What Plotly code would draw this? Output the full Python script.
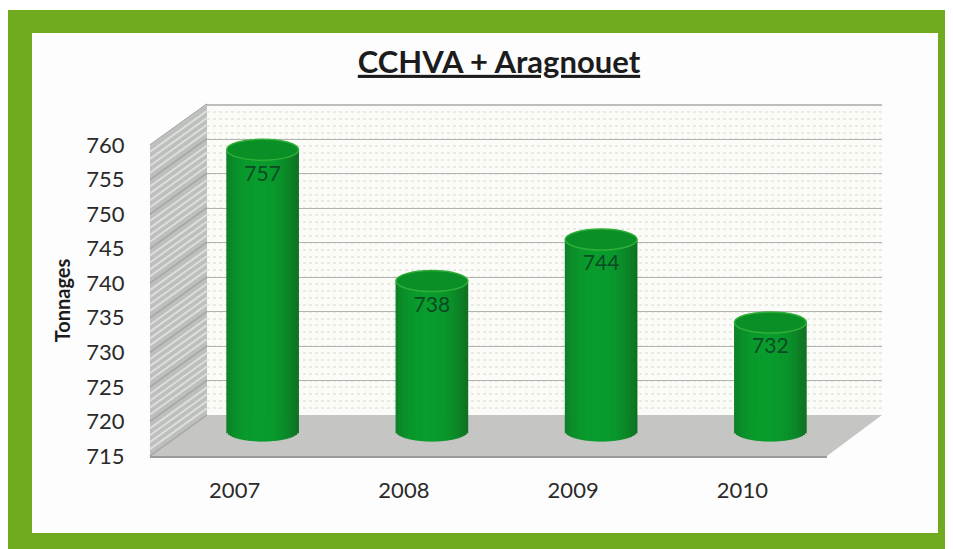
import numpy as np
import plotly.graph_objects as go

years = ["2007", "2008", "2009", "2010"]
tonnages = [757, 738, 744, 732]
y_ticks = [715, 720, 725, 730, 735, 740, 745, 750, 755, 760]
title_text = "CCHVA + Aragnouet"
y_title = "Tonnages"

# The page puts the figure 8px in from the top-left corner of the window
PAGE = 8
W, H = 953 - PAGE, 549 - PAGE
FONT = "Lato"
INK = "#2a2a2a"
px_per_unit = 311 / 45

def fx(x):
    return max(x - PAGE, 0) / W

def fy(y):
    return 1 - (y - PAGE) / H

def dx(a, b):
    return [fx(a), fx(b)]

def dy(top, bottom):
    return [fy(bottom), fy(top)]

def poly(points, close=True):
    return "M" + " L".join(f"{fx(x):.5f},{fy(y):.5f}" for x, y in points) + (" Z" if close else "")

def paper_shape(points, fill, line=None, lw=0):
    return dict(type="path", xref="paper", yref="paper", path=poly(points), fillcolor=fill,
                line=dict(color=line or "rgba(0,0,0,0)", width=lw), layer="below")

shapes = [
    paper_shape([(7, 10), (953, 10), (953, 549), (7, 549)], "#70aa1f"),
    paper_shape([(32, 33), (938, 33), (938, 533), (32, 533)], "#fdfdfd"),
    paper_shape([(207, 105), (882, 105), (882, 415), (207, 415)], "#fbfbf8"),
    paper_shape([(150, 146), (207, 105), (207, 415), (150, 456)], "#bcbfbc"),
    paper_shape([(150, 456), (827, 456), (882, 415), (207, 415)], "#c5c6c4"),
    paper_shape([(207, 105), (882, 105)], "rgba(0,0,0,0)", "#a8aaa6", 1.5),
]
# stripes of the left wall, one per grid step
for v in np.arange(715, 760.01, 1.0):
    yf = 456 - (v - 715) * px_per_unit
    major = v % 5 == 0
    shapes.append(paper_shape([(150, yf), (207, yf - 41)], "rgba(0,0,0,0)",
                              "#a4a7a4" if major else "#dcdedc", 1.5 if major else 2))

# cylinders
bar_w = 0.425
n = 40
t = (np.arange(n) + 0.5) / n * 2 - 1
ell_units = 10.5 / px_per_unit
base_level = 716.3
xs, bases, sizes, colors = [], [], [], []
for i, v in enumerate(tonnages):
    for tt in t:
        xs.append(i + tt * bar_w / 2)
        b = base_level - ell_units * np.sqrt(1 - tt * tt)
        bases.append(b)
        sizes.append(v - b)
        k = abs(tt + 0.1) ** 2.4
        r, g, bb = (8 + 6 * k, 156 - 36 * k, 44 - 8 * k)
        colors.append(f"rgb({r:.0f},{g:.0f},{bb:.0f})")

for i, v in enumerate(tonnages):
    shapes.append(dict(type="circle", xref="x3", yref="y3", layer="above",
                       x0=i - bar_w / 2, x1=i + bar_w / 2,
                       y0=v - ell_units, y1=v + ell_units,
                       fillcolor="#0a8f26", line=dict(color="#2fae38", width=1.5)))

fig = go.Figure()
# back wall grid
fig.add_trace(go.Scatter(x=[0, 1], y=y_ticks[:2], xaxis="x", yaxis="y", mode="none",
                         hoverinfo="skip", showlegend=False))
# front axes with labels
fig.add_trace(go.Scatter(x=years, y=tonnages, xaxis="x2", yaxis="y2", mode="none",
                         hoverinfo="skip", showlegend=False))
fig.add_trace(go.Bar(x=xs, y=sizes, base=bases, width=bar_w / n * 1.4, xaxis="x3", yaxis="y3",
                     marker=dict(color=colors, line=dict(width=0)), hoverinfo="skip",
                     showlegend=False))
fig.add_trace(go.Scatter(x=list(range(len(years))), y=[v - 3.7 for v in tonnages], xaxis="x3", yaxis="y3",
                         mode="text", text=[str(v) for v in tonnages],
                         textfont=dict(family=FONT, size=21, color="#0b4a24"),
                         hoverinfo="skip", showlegend=False))

hidden = dict(showgrid=False, zeroline=False, showticklabels=False, ticks="", showline=False, automargin=False)
fig.update_layout(
    width=W, height=H, margin=dict(l=0, r=0, t=0, b=0, autoexpand=False), autosize=False,
    paper_bgcolor="white", plot_bgcolor="rgba(0,0,0,0)", barmode="overlay", showlegend=False,
    font=dict(family=FONT, color=INK),
    title=dict(text=f"<b><u>{title_text}</u></b>", x=fx(499), xanchor="center", y=fy(62), yanchor="middle",
               font=dict(family=FONT, size=31, color="#1c1c1c")),
    shapes=shapes,
    # back wall
    xaxis=dict(domain=dx(207, 882), range=[0, 1], **hidden),
    yaxis=dict(domain=dy(105, 415), range=[715, 760], showticklabels=False, ticks="", zeroline=False,
               showline=False, automargin=False, tickvals=y_ticks, showgrid=True, gridcolor="#b2b4b0", gridwidth=1.3,
               minor=dict(dtick=1, showgrid=True, gridcolor="#e8eae4", griddash="dot", gridwidth=1.5)),
    # front frame with labels
    xaxis2=dict(domain=dx(150, 827), type="category", categoryorder="array", categoryarray=years,
                range=[-0.5, 3.5], anchor="y2", automargin=False, showgrid=False, zeroline=False, showline=True,
                linecolor="#9a9c9a", linewidth=1.5, ticks="outside", ticklen=14, tickcolor="rgba(0,0,0,0)",
                tickfont=dict(family=FONT, size=22, color=INK)),
    yaxis2=dict(domain=dy(145, 456), range=[715, 760], anchor="x2", automargin=False, tickvals=y_ticks, showgrid=False,
                zeroline=False, showline=False, ticks="outside", ticklen=20, tickcolor="rgba(0,0,0,0)",
                tickfont=dict(family=FONT, size=22, color=INK),
                title=dict(text=f"<b>{y_title}</b>", standoff=10, font=dict(family=FONT, size=20, color="#1c1c1c"))),
    # cylinders, set back half the depth of the box; the axis reaches lower so the round base shows
    xaxis3=dict(domain=dx(178, 855), range=[-0.5, 3.5], anchor="y3", **hidden),
    yaxis3=dict(domain=dy(129, 456), range=[715 - 16 / px_per_unit, 760], anchor="x3", **hidden),
)
fig.write_html("out.html")
